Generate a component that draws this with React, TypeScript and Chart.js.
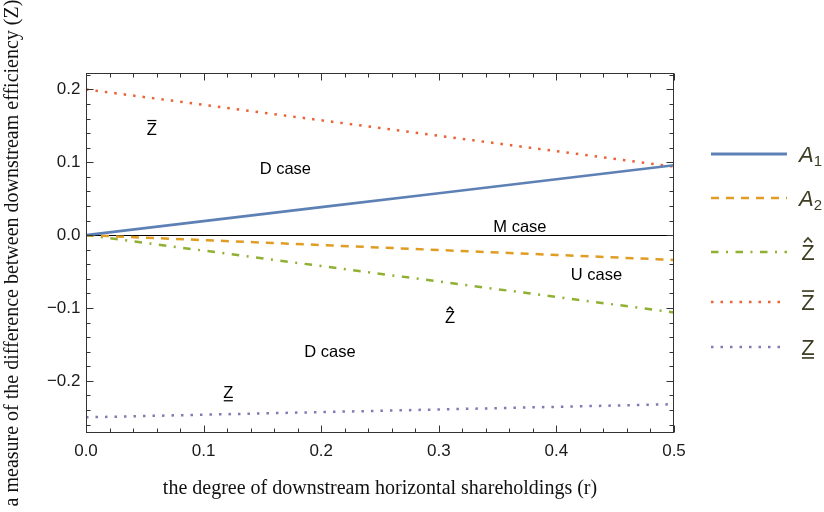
import React, { useEffect, useRef } from 'react';
import { Chart, registerables } from 'chart.js';

Chart.register(...registerables);

// ---- data ----
const rValues = [0, 0.1, 0.2, 0.3, 0.4, 0.5];
const A1 = [0, 0.0192, 0.0384, 0.0576, 0.0768, 0.096];
const A2 = [0, -0.0068, -0.0136, -0.0204, -0.0272, -0.034];
const Zhat = [0, -0.0212, -0.0424, -0.0636, -0.0848, -0.106];
const Zbar = [0.2, 0.1788, 0.1576, 0.1364, 0.1152, 0.094];
const Zunder = [-0.25, -0.2464, -0.2428, -0.2392, -0.2356, -0.232];

const xTickValues = [0, 0.1, 0.2, 0.3, 0.4, 0.5];
const xTickLabels = ['0.0', '0.1', '0.2', '0.3', '0.4', '0.5'];
const yTickValues = [-0.2, -0.1, 0, 0.1, 0.2];
const yTickLabels = ['\u22120.2', '\u22120.1', '0.0', '0.1', '0.2'];

const xTitle = 'the degree of downstream horizontal shareholdings (r)';
const yTitle = 'a measure of the difference between downstream efficiency (Z)';

const caseNotes = [
  { text: 'D case', x: 0.1695, y: 0.0897 },
  { text: 'M case', x: 0.369, y: 0.0103 },
  { text: 'U case', x: 0.434, y: -0.0555 },
  { text: 'D case', x: 0.2075, y: -0.161 },
];
const zNotes = [
  { deco: 'bar', x: 0.056, y: 0.146 },
  { deco: 'hat', x: 0.3095, y: -0.113 },
  { deco: 'under', x: 0.121, y: -0.216 },
];

const COLORS = ['#5E81B5', '#E19C24', '#8FB032', '#EB6235', '#8778B3'];
const DASHES: number[][] = [[], [8, 7], [7.5, 7.5, 2, 7.5], [2.5, 7], [2.5, 7]];
const seriesNames = ['A1', 'A2', 'Zhat', 'Zbar', 'Zunder'];
const seriesValues = [A1, A2, Zhat, Zbar, Zunder];

const SANS = '"Liberation Sans", Arial, sans-serif';
const SERIF = '"Liberation Serif", "Times New Roman", serif';

function drawZ(ctx: CanvasRenderingContext2D, cx: number, cy: number, size: number, deco: string, color: string, italic = false) {
  ctx.save();
  ctx.font = `${italic ? 'italic ' : ''}${size}px ${SANS}`;
  ctx.fillStyle = color;
  ctx.strokeStyle = color;
  ctx.textAlign = 'center';
  ctx.textBaseline = 'alphabetic';
  const capH = 0.716 * size;
  const base = cy + capH / 2;
  ctx.fillText('Z', cx, base);
  const w = ctx.measureText('Z').width;
  const top = base - capH;
  ctx.lineWidth = Math.max(1.2, size * 0.075);
  ctx.beginPath();
  if (deco === 'bar') {
    const yy = top - size * 0.14;
    ctx.moveTo(cx - w * 0.45, yy);
    ctx.lineTo(cx + w * 0.45, yy);
  } else if (deco === 'under') {
    const yy = base + size * 0.14;
    ctx.moveTo(cx - w * 0.45, yy);
    ctx.lineTo(cx + w * 0.45, yy);
  } else if (deco === 'hat') {
    ctx.moveTo(cx - w * 0.3, top - size * 0.08);
    ctx.lineTo(cx, top - size * 0.28);
    ctx.lineTo(cx + w * 0.3, top - size * 0.08);
  }
  ctx.stroke();
  ctx.restore();
}

const framePlugin = {
  id: 'mmaFrame',
  beforeDatasetsDraw(chart: any) {
    const { ctx, chartArea: a, scales } = chart;
    const y0 = Math.round(scales.y.getPixelForValue(0)) + 0.5;
    ctx.save();
    ctx.strokeStyle = '#000';
    ctx.lineWidth = 1;
    ctx.beginPath();
    ctx.moveTo(a.left, y0);
    ctx.lineTo(a.right, y0);
    ctx.stroke();
    ctx.restore();
  },
  afterDatasetsDraw(chart: any) {
    const { ctx, chartArea: a, scales } = chart;
    const xs = scales.x;
    const ys = scales.y;
    ctx.save();
    // frame
    ctx.strokeStyle = '#333';
    ctx.lineWidth = 1;
    const L = Math.round(a.left) + 0.5, R = Math.round(a.right) - 0.5;
    const T = Math.round(a.top) + 0.5, B = Math.round(a.bottom) - 0.5;
    ctx.strokeRect(L, T, R - L, B - T);
    // ticks
    ctx.beginPath();
    for (let i = 0; i <= 25; i++) {
      const v = i * 0.02;
      const major = i % 5 === 0;
      const len = major ? 7 : 4;
      const px = Math.round(xs.getPixelForValue(v)) + 0.5;
      ctx.moveTo(px, B); ctx.lineTo(px, B - len);
      ctx.moveTo(px, T); ctx.lineTo(px, T + len);
    }
    for (let i = -14; i <= 11; i++) {
      const v = i * 0.02;
      const major = i % 5 === 0;
      const len = major ? 7 : 4;
      const py = Math.round(ys.getPixelForValue(v)) + 0.5;
      if (py < a.top || py > a.bottom) continue;
      ctx.moveTo(L, py); ctx.lineTo(L + len, py);
      ctx.moveTo(R, py); ctx.lineTo(R - len, py);
    }
    ctx.stroke();

    // case annotations
    ctx.fillStyle = '#000';
    ctx.font = `16.5px ${SANS}`;
    ctx.textAlign = 'center';
    ctx.textBaseline = 'middle';
    caseNotes.forEach((n) => {
      ctx.fillText(n.text, xs.getPixelForValue(n.x), ys.getPixelForValue(n.y));
    });
    zNotes.forEach((n) => {
      drawZ(ctx, xs.getPixelForValue(n.x), ys.getPixelForValue(n.y), 16.5, n.deco, '#000');
    });

    // axis titles
    ctx.fillStyle = '#111';
    ctx.font = `20px ${SERIF}`;
    ctx.textAlign = 'center';
    ctx.textBaseline = 'alphabetic';
    ctx.fillText(xTitle, (a.left + a.right) / 2, 494);
    ctx.save();
    ctx.translate(18, (a.top + a.bottom) / 2);
    ctx.rotate(-Math.PI / 2);
    ctx.fillText(yTitle, 0, 0);
    ctx.restore();

    // legend
    const legendY = [154, 198, 252, 302, 347];
    const textColor = '#3d3d22';
    seriesNames.forEach((name, i) => {
      const yy = legendY[i];
      ctx.save();
      ctx.strokeStyle = COLORS[i];
      ctx.lineWidth = i === 0 ? 2.8 : 2.6;
      ctx.setLineDash(DASHES[i]);
      ctx.lineCap = 'butt';
      ctx.beginPath();
      ctx.moveTo(711, yy);
      ctx.lineTo(787, yy);
      ctx.stroke();
      ctx.restore();
      if (name === 'A1' || name === 'A2') {
        ctx.save();
        ctx.fillStyle = textColor;
        ctx.textAlign = 'left';
        ctx.textBaseline = 'alphabetic';
        ctx.font = `italic 22px ${SANS}`;
        const base = yy + 0.716 * 22 / 2;
        ctx.fillText('A', 799, base);
        const w = ctx.measureText('A').width;
        ctx.font = `15px ${SANS}`;
        ctx.fillText(name === 'A1' ? '1' : '2', 799 + w, base + 4);
        ctx.restore();
      } else {
        const deco = name === 'Zhat' ? 'hat' : name === 'Zbar' ? 'bar' : 'under';
        drawZ(ctx, 808, yy, 22, deco, textColor);
      }
    });
    ctx.restore();
  },
};

export default function App() {
  const canvasRef = useRef<HTMLCanvasElement | null>(null);

  useEffect(() => {
    const canvas = canvasRef.current;
    if (!canvas) return;
    const datasets = seriesNames.map((name, i) => ({
      label: name,
      data: rValues.map((r, j) => ({ x: r, y: seriesValues[i][j] })),
      borderColor: COLORS[i],
      backgroundColor: COLORS[i],
      borderWidth: i === 0 ? 2.6 : 2.5,
      borderDash: DASHES[i],
      borderCapStyle: 'butt' as const,
      pointRadius: 0,
      tension: 0,
      fill: false,
    }));
    const chart = new Chart(canvas, {
      type: 'line',
      data: { datasets },
      options: {
        responsive: false,
        animation: false,
        devicePixelRatio: 1,
        layout: { padding: { top: 73, right: 150, left: 0, bottom: 0 } },
        plugins: { legend: { display: false }, tooltip: { enabled: false } },
        scales: {
          x: {
            type: 'linear',
            min: 0,
            max: 0.5,
            grid: { display: false, drawTicks: false },
            border: { display: false },
            afterFit: (s: any) => { s.height = 512 - 433; },
            afterBuildTicks: (s: any) => { s.ticks = xTickValues.map((v) => ({ value: v })); },
            ticks: {
              padding: 8,
              autoSkip: false,
              maxRotation: 0,
              color: '#1a1a1a',
              font: { family: SANS, size: 17 },
              callback: (v: any) => {
                const k = xTickValues.findIndex((t) => Math.abs(t - v) < 1e-9);
                return k >= 0 ? xTickLabels[k] : '';
              },
            },
          },
          y: {
            type: 'linear',
            min: -0.2715,
            max: 0.2225,
            grid: { display: false, drawTicks: false },
            border: { display: false },
            afterFit: (s: any) => { s.width = 86; },
            afterBuildTicks: (s: any) => { s.ticks = yTickValues.map((v) => ({ value: v })); },
            ticks: {
              padding: 5.5,
              autoSkip: false,
              color: '#1a1a1a',
              font: { family: SANS, size: 17 },
              callback: (v: any) => {
                const k = yTickValues.findIndex((t) => Math.abs(t - v) < 1e-9);
                return k >= 0 ? yTickLabels[k] : '';
              },
            },
          },
        },
      },
      plugins: [framePlugin],
    });
    return () => chart.destroy();
  }, []);

  return (
    <div style={{ position: 'absolute', left: 0, top: 0, width: 824, height: 512, background: '#fff' }}>
      <canvas ref={canvasRef} width={824} height={512} style={{ display: 'block', width: 824, height: 512 }} />
    </div>
  );
}
